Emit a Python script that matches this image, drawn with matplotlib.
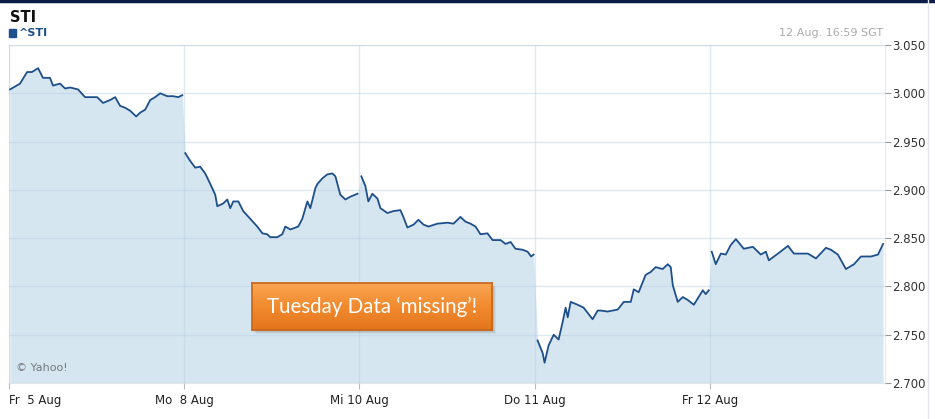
import matplotlib.pyplot as plt
import numpy as np
from matplotlib.colors import LinearSegmentedColormap

# trading-day position (0 = Fr 5 Aug open) and index level
fri5_x = [0.006, 0.063, 0.103, 0.131, 0.166, 0.194, 0.234, 0.251, 0.291, 0.320, 0.349, 0.394,
          0.434, 0.463, 0.503, 0.537, 0.577, 0.606, 0.634, 0.663, 0.691, 0.726, 0.749, 0.777,
          0.806, 0.834, 0.863, 0.903, 0.937, 0.966, 0.989]
fri5_y = [3.004, 3.010, 3.022, 3.022, 3.026, 3.016, 3.016, 3.008, 3.010, 3.005, 3.006, 3.004,
          2.996, 2.996, 2.996, 2.990, 2.993, 2.996, 2.987, 2.985, 2.982, 2.976, 2.980, 2.983,
          2.993, 2.996, 3.000, 2.997, 2.997, 2.996, 2.998]

mon8_x = [1.006, 1.034, 1.063, 1.091, 1.120, 1.149, 1.177, 1.189, 1.223, 1.246, 1.263, 1.280,
          1.309, 1.337, 1.377, 1.417, 1.446, 1.474, 1.491, 1.531, 1.560, 1.577, 1.606, 1.651,
          1.674, 1.703, 1.720, 1.749, 1.760, 1.789, 1.817, 1.846, 1.863, 1.891, 1.920, 1.949, 1.989]
mon8_y = [2.938, 2.930, 2.923, 2.924, 2.917, 2.906, 2.895, 2.883, 2.886, 2.890, 2.881, 2.888,
          2.888, 2.878, 2.870, 2.862, 2.855, 2.854, 2.851, 2.851, 2.854, 2.862, 2.859, 2.862,
          2.870, 2.888, 2.881, 2.902, 2.906, 2.912, 2.916, 2.917, 2.914, 2.895, 2.890, 2.893, 2.896]

wed10_x = [2.011, 2.034, 2.051, 2.074, 2.103, 2.120, 2.160, 2.194, 2.234, 2.251, 2.274, 2.309,
           2.337, 2.366, 2.394, 2.446, 2.503, 2.537, 2.577, 2.606, 2.634, 2.663, 2.691, 2.731,
           2.760, 2.806, 2.834, 2.863, 2.891, 2.931, 2.960, 2.980, 2.994]
wed10_y = [2.914, 2.904, 2.888, 2.896, 2.891, 2.881, 2.876, 2.878, 2.879, 2.872, 2.861, 2.864,
           2.869, 2.864, 2.862, 2.865, 2.866, 2.865, 2.872, 2.867, 2.865, 2.862, 2.854, 2.855,
           2.848, 2.848, 2.844, 2.846, 2.839, 2.838, 2.836, 2.831, 2.833]

thu11_x = [3.017, 3.046, 3.057, 3.080, 3.109, 3.137, 3.160, 3.177, 3.189, 3.206, 3.246, 3.280,
           3.331, 3.360, 3.377, 3.417, 3.474, 3.509, 3.549, 3.566, 3.594, 3.634, 3.663, 3.691,
           3.731, 3.760, 3.777, 3.789, 3.817, 3.846, 3.874, 3.909, 3.960, 3.977, 3.994]
thu11_y = [2.744, 2.731, 2.721, 2.739, 2.750, 2.745, 2.763, 2.778, 2.768, 2.784, 2.781, 2.778,
           2.766, 2.775, 2.775, 2.774, 2.776, 2.784, 2.784, 2.797, 2.794, 2.812, 2.815, 2.820,
           2.818, 2.823, 2.820, 2.801, 2.784, 2.789, 2.786, 2.781, 2.796, 2.792, 2.796]

fri12_x = [4.011, 4.034, 4.063, 4.091, 4.120, 4.149, 4.194, 4.246, 4.291, 4.320, 4.337, 4.389,
           4.446, 4.480, 4.560, 4.606, 4.663, 4.691, 4.731, 4.777, 4.823, 4.863, 4.920, 4.960, 4.989]
fri12_y = [2.836, 2.823, 2.834, 2.833, 2.843, 2.849, 2.839, 2.841, 2.833, 2.836, 2.827, 2.834,
           2.842, 2.834, 2.834, 2.829, 2.840, 2.838, 2.833, 2.818, 2.823, 2.831, 2.831, 2.833, 2.844]

day_ticks = [0, 1, 2, 3, 4]
day_labels = ['Fr  5 Aug', 'Mo  8 Aug', 'Mi 10 Aug', 'Do 11 Aug', 'Fr 12 Aug']
y_ticks = [2.70, 2.75, 2.80, 2.85, 2.90, 2.95, 3.00, 3.05]

line_c = '#1d4f8a'
fill_c = '#d6e6f1'

fig = plt.figure(figsize=(9.35, 4.19), dpi=100)
ax = fig.add_axes([9/935, 1 - 383/419, 876/935, 338/419])

sessions = [(fri5_x, fri5_y), (mon8_x, mon8_y), (wed10_x, wed10_y),
            (thu11_x, thu11_y), (fri12_x, fri12_y)]
all_x = np.concatenate([s[0] for s in sessions])
all_y = np.concatenate([s[1] for s in sessions])
ax.fill_between(all_x, 2.70, all_y, color=fill_c, lw=0, zorder=1)
for sx, sy in sessions:
    ax.plot(sx, sy, color=line_c, lw=1.3, zorder=3)

ax.set_xlim(0, 5.0)
ax.set_ylim(2.70, 3.05)
ax.set_xticks(day_ticks)
ax.set_xticklabels(day_labels, fontsize=8.5, color='#222222')
ax.get_xticklabels()[0].set_ha('left')
ax.get_xticklabels()[0].set_x(-0.02)
ax.set_yticks(y_ticks)
ax.set_yticklabels(['%.3f' % v for v in y_ticks], fontsize=8.5, color='#333333')
ax.yaxis.tick_right()
ax.tick_params(axis='y', length=4, color='#999999', pad=1)
ax.tick_params(axis='x', length=4, color='#bbbbbb', pad=4)
ax.grid(True, color='#b9cfe0', alpha=0.45, lw=1, zorder=2)
ax.set_axisbelow(False)
for sp in ax.spines.values():
    sp.set_color('#e2e6ea')
ax.spines['right'].set_color('#e8ecef')
ax.text(0.008, 0.035, '\u00a9 Yahoo!', transform=ax.transAxes, fontsize=8, color='#777777')

# header texts
fig.text(10/935, 1 - 17/419, 'STI', fontsize=10.5, fontweight='bold', color='#111111', va='center')
fig.patches.append(plt.Rectangle((9/935, 1 - 37/419), 7/935, 8/419, transform=fig.transFigure,
                                 color=line_c, figure=fig))
fig.text(19/935, 1 - 33/419, '^STI', fontsize=8, color=line_c, fontweight='bold', va='center')
fig.text(883/935, 1 - 33/419, '12.Aug. 16:59 SGT', fontsize=8, color='#aaaaaa', va='center', ha='right')

# frame lines of the screenshot
fig.add_artist(plt.Line2D([0, 1], [1 - 1/419, 1 - 1/419], transform=fig.transFigure,
                          color='#0b1c48', lw=2.5))
fig.add_artist(plt.Line2D([928/935, 928/935], [0, 1], transform=fig.transFigure,
                          color='#e3e6ea', lw=1))

# orange callout box with soft shadow
bx0, bx1, by0, by1 = 252/935, 492/935, 1 - 330/419, 1 - 283/419
for k, a in [(1, 0.10), (2, 0.09), (3, 0.08), (4, 0.06)]:
    fig.patches.append(plt.Rectangle((bx0 + k/935, by0 - k/419), bx1 - bx0, by1 - by0,
                                     transform=fig.transFigure, color='#3a2a10', alpha=a,
                                     figure=fig, zorder=4, lw=0))
bax = fig.add_axes([bx0, by0, bx1 - bx0, by1 - by0], zorder=5)
grad = np.linspace(0, 1, 64).reshape(-1, 1)
cm = LinearSegmentedColormap.from_list('o', ['#f9a654', '#f28a2e', '#e4761d'])
bax.imshow(grad, aspect='auto', cmap=cm, extent=[0, 1, 0, 1], origin='upper')
bax.set_xlim(0, 1)
bax.set_ylim(0, 1)
bax.set_xticks([])
bax.set_yticks([])
for sp in bax.spines.values():
    sp.set_color('#c8651a')
    sp.set_linewidth(1.2)
bax.text(0.5, 0.5, 'Tuesday Data \u2018missing\u2019!', fontsize=14.8, color='white',
         ha='center', va='center', family=['Lato', 'DejaVu Sans'])

fig.savefig('out.png', dpi=100)
